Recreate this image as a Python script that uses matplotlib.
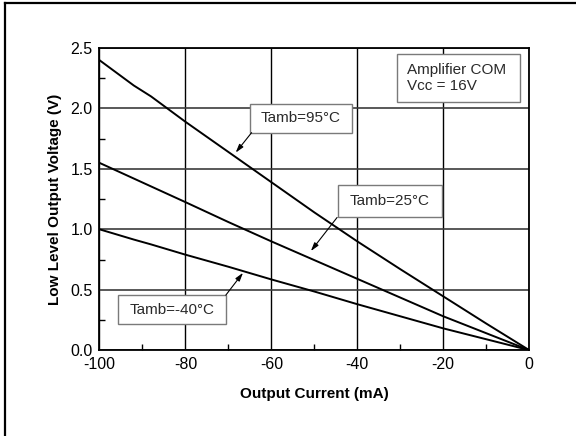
import matplotlib.pyplot as plt
from matplotlib.lines import Line2D
from matplotlib.patches import Rectangle
from matplotlib.ticker import MultipleLocator

plt.rcParams['font.family'] = ['Liberation Sans', 'DejaVu Sans']

# Output current (mA) and low level output voltage (V) per temperature
current = [-100, -92, -88, -80, -70, -60, -50, -40, -30, -20, -10, 0]
v_95 = [2.40, 2.19, 2.10, 1.89, 1.64, 1.39, 1.14, 0.90, 0.67, 0.445, 0.22, 0.0]
v_25 = [1.55, 1.42, 1.355, 1.225, 1.06, 0.90, 0.745, 0.59, 0.435, 0.28, 0.14, 0.0]
v_m40 = [1.00, 0.915, 0.875, 0.79, 0.69, 0.585, 0.485, 0.38, 0.28, 0.18, 0.09, 0.0]

x_ticks = [-100, -80, -60, -40, -20, 0]
y_ticks = [0.0, 0.5, 1.0, 1.5, 2.0, 2.5]


def label_box(ax, x0, x1, y0, y1, lines, align='center'):
    '''Draw a grey framed white box with text inside'''
    ax.add_patch(Rectangle((x0, y0), x1 - x0, y1 - y0, facecolor='white',
                           edgecolor='#7a7a7a', lw=1.0, zorder=4))
    if align == 'center':
        ax.text((x0 + x1) / 2, (y0 + y1) / 2, lines, ha='center',
                va='center', fontsize=11, color='#2a2a2a', zorder=5)
    else:
        ax.text(x0 + 2.3, (y0 + y1) / 2, lines, ha='left', va='center',
                fontsize=11, color='#2a2a2a', linespacing=1.2, zorder=5)


def arrow(ax, tail, head):
    ax.annotate('', xy=head, xytext=tail, zorder=5,
                arrowprops=dict(arrowstyle='-|>,head_length=0.5,head_width=0.15',
                                lw=0.8, color='black', shrinkA=0, shrinkB=0))


def main():
    fig = plt.figure(figsize=(5.76, 4.36), dpi=100)
    ax = fig.add_axes([0.1727, 0.197, 0.746, 0.6927])

    for v in (v_95, v_25, v_m40):
        ax.plot(current, v, color='black', lw=1.4, zorder=3)

    ax.set_xlim(-100, 0)
    ax.set_ylim(0, 2.5)
    ax.set_xticks(x_ticks)
    ax.set_xticklabels([str(t) for t in x_ticks])
    ax.set_yticks(y_ticks)
    ax.set_yticklabels(['{:.1f}'.format(t) for t in y_ticks])
    ax.xaxis.set_minor_locator(MultipleLocator(10))
    ax.yaxis.set_minor_locator(MultipleLocator(0.25))
    ax.tick_params(which='both', direction='in', labelsize=11.5,
                   color='black', width=1.0)
    ax.tick_params(which='major', length=0, pad=5)
    ax.tick_params(which='minor', length=4)

    ax.grid(axis='x', which='major', color='black', lw=1.0, zorder=1)
    ax.grid(axis='y', which='major', color='#3c3c3c', lw=1.2, zorder=1)
    ax.set_axisbelow(True)
    for s in ax.spines.values():
        s.set_linewidth(1.3)

    ax.set_xlabel('Output Current (mA)', fontsize=11, fontweight='bold',
                  labelpad=11)
    ax.set_ylabel('Low Level Output Voltage (V)', fontsize=11,
                  fontweight='bold', labelpad=6)

    # Temperature labels with arrows onto their curves
    label_box(ax, -65.0, -41.3, 1.80, 2.04, 'Tamb=95°C')
    arrow(ax, (-64.6, 1.80), (-68.3, 1.635))
    label_box(ax, -44.5, -20.3, 1.098, 1.366, 'Tamb=25°C')
    arrow(ax, (-44.7, 1.098), (-50.8, 0.82))
    label_box(ax, -95.6, -70.5, 0.215, 0.455, 'Tamb=-40°C')
    arrow(ax, (-70.6, 0.455), (-66.6, 0.64))

    label_box(ax, -30.7, -2.05, 2.05, 2.45, 'Amplifier COM\nVcc = 16V',
              align='left')

    # Frame lines along the top and left edge of the figure
    fig.add_artist(Line2D([5 / 576, 5 / 576], [0, 1 - 3 / 436],
                          transform=fig.transFigure, color='black', lw=1.6))
    fig.add_artist(Line2D([5 / 576, 1], [1 - 3 / 436, 1 - 3 / 436],
                          transform=fig.transFigure, color='black', lw=1.6))

    fig.savefig('out.png', dpi=100)


if __name__ == "__main__":
    main()
